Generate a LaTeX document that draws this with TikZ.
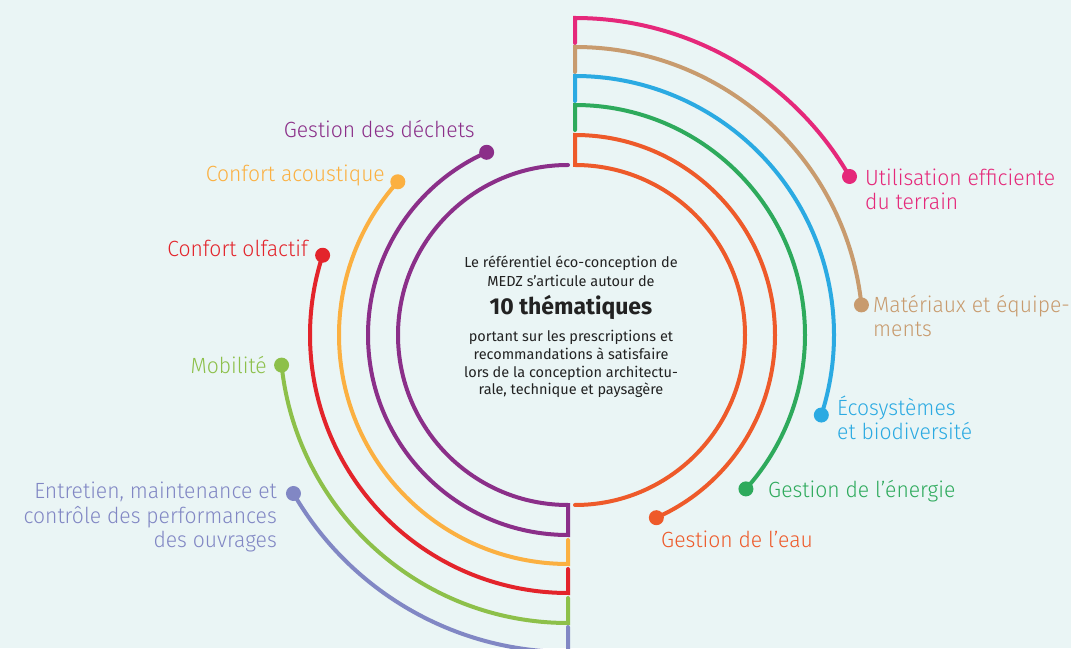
\documentclass[tikz,border=0pt]{standalone}
\usepackage{fontspec}
\usetikzlibrary{calc}
\setmainfont{Fira Sans}
\newfontfamily\labf{Fira Sans Light}[FakeStretch=0.96]
\newfontfamily\cenf{Fira Sans}
\definecolor{bgc}{HTML}{EAF5F5}
\definecolor{cpink}{HTML}{E5287A}
\definecolor{ctan}{HTML}{C89B6E}
\definecolor{cblue}{HTML}{2BAAE2}
\definecolor{cgreen}{HTML}{2EAA5C}
\definecolor{corange}{HTML}{EE5A2A}
\definecolor{cpurple}{HTML}{8B2F89}
\definecolor{cyellow}{HTML}{FBB041}
\definecolor{cred}{HTML}{E3242B}
\definecolor{clgreen}{HTML}{8DC04A}
\definecolor{clav}{HTML}{8187C4}
\definecolor{ctext}{HTML}{222222}
\begin{document}
\begin{tikzpicture}[x=1pt,y=1pt,
  arcline/.style={line width=4pt, line cap=round, line join=miter},
  dot/.style={circle, fill=#1, inner sep=0pt, minimum size=15pt},
  lab/.style={text=#1, font=\labf\fontsize{22}{24.5}\selectfont, inner sep=0pt},
  ctr/.style={text=ctext, inner sep=0pt, align=center},
]
\fill[bgc] (0,0) rectangle (1071,648);
\useasboundingbox (0,0) rectangle (1071,648);
\coordinate (CL) at (568,313);
\coordinate (CR) at (575,313);

% dots
\node[dot=cpink]   (dpink)   at ($(CR)+(30:317pt)$) {};
\node[dot=ctan]    (dtan)    at ($(CR)+(6:288pt)$) {};
\node[dot=cblue]   (dblue)   at ($(CR)+(-18:259pt)$) {};
\node[dot=cgreen]  (dgreen)  at ($(CR)+(-42:230pt)$) {};
\node[dot=corange] (dorange) at ($(CR)+(-66:200pt)$) {};
\node[dot=cpurple] (dpurple) at ($(CL)+(114:200pt)$) {};
\node[dot=cyellow] (dyellow) at ($(CL)+(138:229pt)$) {};
\node[dot=cred]    (dred)    at ($(CL)+(162:258pt)$) {};
\node[dot=clgreen] (dlgreen) at ($(CL)+(186:288pt)$) {};
\node[dot=clav]    (dlav)    at ($(CL)+(210:317pt)$) {};

% right arcs
\draw[arcline,cpink]  ($(CR)+(90:292pt)$) -- ($(CR)+(90:317pt)$) arc[start angle=90,end angle=30,radius=317pt];
\draw[arcline,ctan]   ($(CR)+(90:263pt)$) -- ($(CR)+(90:288pt)$) arc[start angle=90,end angle=6,radius=288pt];
\draw[arcline,cblue]  ($(CR)+(90:234pt)$) -- ($(CR)+(90:259pt)$) arc[start angle=90,end angle=-18,radius=259pt];
\draw[arcline,cgreen] ($(CR)+(90:205pt)$) -- ($(CR)+(90:230pt)$) arc[start angle=90,end angle=-42,radius=230pt];
\draw[arcline,corange] ($(CR)+(-90:170pt)$) arc[start angle=-90,end angle=90,radius=170pt] -- ($(CR)+(90:200pt)$) arc[start angle=90,end angle=-66,radius=200pt];
% left arcs
\draw[arcline,cpurple] ($(CL)+(90:170pt)$) arc[start angle=90,end angle=270,radius=170pt] -- ($(CL)+(270:200pt)$) arc[start angle=270,end angle=114,radius=200pt];
\draw[arcline,cyellow] ($(CL)+(270:205pt)$) -- ($(CL)+(270:229pt)$) arc[start angle=270,end angle=138,radius=229pt];
\draw[arcline,cred]    ($(CL)+(270:234pt)$) -- ($(CL)+(270:258pt)$) arc[start angle=270,end angle=162,radius=258pt];
\draw[arcline,clgreen] ($(CL)+(270:263pt)$) -- ($(CL)+(270:288pt)$) arc[start angle=270,end angle=186,radius=288pt];
\draw[arcline,clav]    ($(CL)+(270:292pt)$) -- ($(CL)+(270:317pt)$) arc[start angle=270,end angle=210,radius=317pt];

% labels
\node[lab=cpurple, anchor=base east] (lpurple) at (475,510) {Gestion des déchets};
\node[lab=cyellow, anchor=base east] (lyellow) at (385,466) {Confort acoustique};
\node[lab=cred, anchor=base east] (lred) at (308,391) {Confort olfactif};
\node[lab=clgreen, anchor=base east] (llgreen) at (267,274) {Mobilité};
\node[lab=clav, anchor=base east, align=right] (llav) at (277,100) {Entretien, maintenance et\\contrôle des performances\\des ouvrages};
\node[lab=cpink, anchor=base west, align=left] (lpink) at (865,438) {Utilisation efficiente\\du terrain};
\node[lab=ctan, anchor=base west, align=left] (ltan) at (873,311) {Matériaux et équipe-\\ments};
\node[lab=cblue, anchor=base west, align=left] (lblue) at (837,208) {Écosystèmes\\et biodiversité};
\node[lab=cgreen, anchor=base west] (lgreen) at (768,150) {Gestion de l’énergie};
\node[lab=corange, anchor=base west] (lorange) at (661,100) {Gestion de l’eau};

% centre
\node[ctr, anchor=base, font=\cenf\fontsize{14.5}{19}\selectfont] (ctop) at (571,361) {Le référentiel éco-conception de\\MEDZ s’articule autour de};
\node[ctr, anchor=base, font=\bfseries\fontsize{23}{24}\selectfont] (ctitle) at (571,333) {10 thématiques};
\node[ctr, anchor=base, font=\cenf\fontsize{14.5}{17.7}\selectfont] (cbot) at (571,253) {portant sur les prescriptions et\\recommandations à satisfaire\\lors de la conception architectu-\\rale, technique et paysagère};
\end{tikzpicture}
\end{document}
